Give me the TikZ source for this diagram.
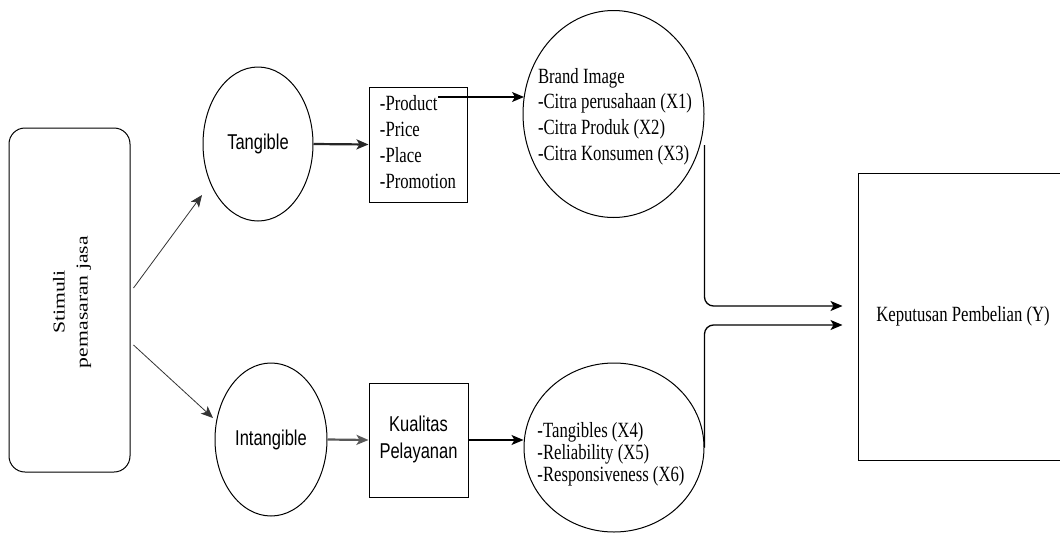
\documentclass[tikz,border=0pt]{standalone}
\usepackage{fontspec}
\setmainfont{Liberation Serif}
\setsansfont{Liberation Sans}
\usepackage{graphicx}
\usetikzlibrary{shapes.geometric,arrows.meta}
\newcommand{\vst}[1]{\scalebox{1}[1.3]{#1}}
\newcommand{\hst}[1]{\scalebox{1.3}[1]{#1}}
\begin{document}
\begin{tikzpicture}[x=1pt,y=-1pt,
  ell/.style={draw, ellipse, line width=1pt, inner sep=0pt},
  boxn/.style={draw, rectangle, line width=1pt, inner sep=0pt},
  serif/.style={font=\fontsize{16.7pt}{20pt}\selectfont, inner sep=0pt},
  sansf/.style={font=\sffamily\fontsize{16.5pt}{20.8pt}\selectfont, inner sep=0pt},
  arr/.style={-{Stealth[length=12pt,width=10pt,inset=3pt]}, line width=1.3pt},
  thickarr/.style={-{Stealth[length=12pt,width=10pt,inset=3pt]}, line width=2.2pt, black!85},
  thinarr/.style={-{Stealth[length=12pt,width=10pt,inset=3pt]}, line width=0.8pt, black!80}
]
\useasboundingbox (0,0) rectangle (1060,533);
\fill[white] (0,0) rectangle (1060,533);

% left box
\node[boxn, rounded corners=16pt, minimum width=121pt, minimum height=344pt] (stim) at (69.5,300) {};
\node[font=\fontsize{16.7pt}{23pt}\selectfont, inner sep=0pt, rotate=90] (stimtxt) at (71.5,302)
  {\hst{\begin{tabular}{@{}c@{}}Stimuli\\pemasaran jasa\end{tabular}}};

% ellipses
\node[ell, sansf, minimum width=110pt, minimum height=154pt] (tang) at (258,144) {\vst{Tangible}};
\node[ell, sansf, minimum width=112pt, minimum height=153pt] (intang) at (271,439.5) {\vst{Intangible}};

% boxes
\node[boxn, serif, minimum width=98pt, minimum height=115pt] (mix) at (418,144.5)
  {\vst{\begin{tabular}{@{}l@{}}-Product\\-Price\\-Place\\-Promotion\end{tabular}}};
\node[boxn, sansf, minimum width=99pt, minimum height=114pt] (kual) at (418.5,440)
  {\vst{\begin{tabular}{@{}c@{}}Kualitas\\Pelayanan\end{tabular}}};

% big ellipses
\node[ell, minimum width=181pt, minimum height=207pt] (brand) at (613.5,114) {};
\node[serif, font=\fontsize{16.7pt}{19.8pt}\selectfont] (brandtxt) at (615,116.5)
  {\vst{\begin{tabular}{@{}l@{}}Brand Image\\-Citra perusahaan (X1)\\-Citra Produk (X2)\\-Citra Konsumen (X3)\end{tabular}}};
\node[ell, minimum width=180pt, minimum height=169pt] (serv) at (614,447.5) {};
\node[serif, font=\fontsize{16.7pt}{17.3pt}\selectfont] (servtxt) at (611,455)
  {\vst{\begin{tabular}{@{}l@{}}-Tangibles (X4)\\-Reliability (X5)\\-Responsiveness (X6)\end{tabular}}};

% result box
\node[boxn, serif, minimum width=210pt, minimum height=287pt] (kep) at (963,316.5) {\vst{Keputusan Pembelian (Y)}};

% connectors
\draw[thinarr] ([shift={(3,-12)}]stim.east) -- ([shift={(-56,51)}]tang.center);
\draw[thinarr] ([shift={(3,45)}]stim.east) -- ([shift={(-58,-21.5)}]intang.center);
\draw[thickarr] (tang.east) -- (mix.west);
\draw[thickarr, black!65] (intang.east) -- (kual.west);
\draw[arr] ([shift={(20,-47.5)}]mix.center) -- ([shift={(-89.5,-17)}]brand.center);
\draw[arr] (kual.east) -- (kual.east -| serv.west);
\draw[arr, rounded corners=9pt] ([shift={(91,31)}]brand.center) |- ([shift={(-15,-10.5)}]kep.west);
\draw[arr, rounded corners=9pt] (serv.east) |- ([shift={(-15,8.5)}]kep.west);
\end{tikzpicture}
\end{document}
